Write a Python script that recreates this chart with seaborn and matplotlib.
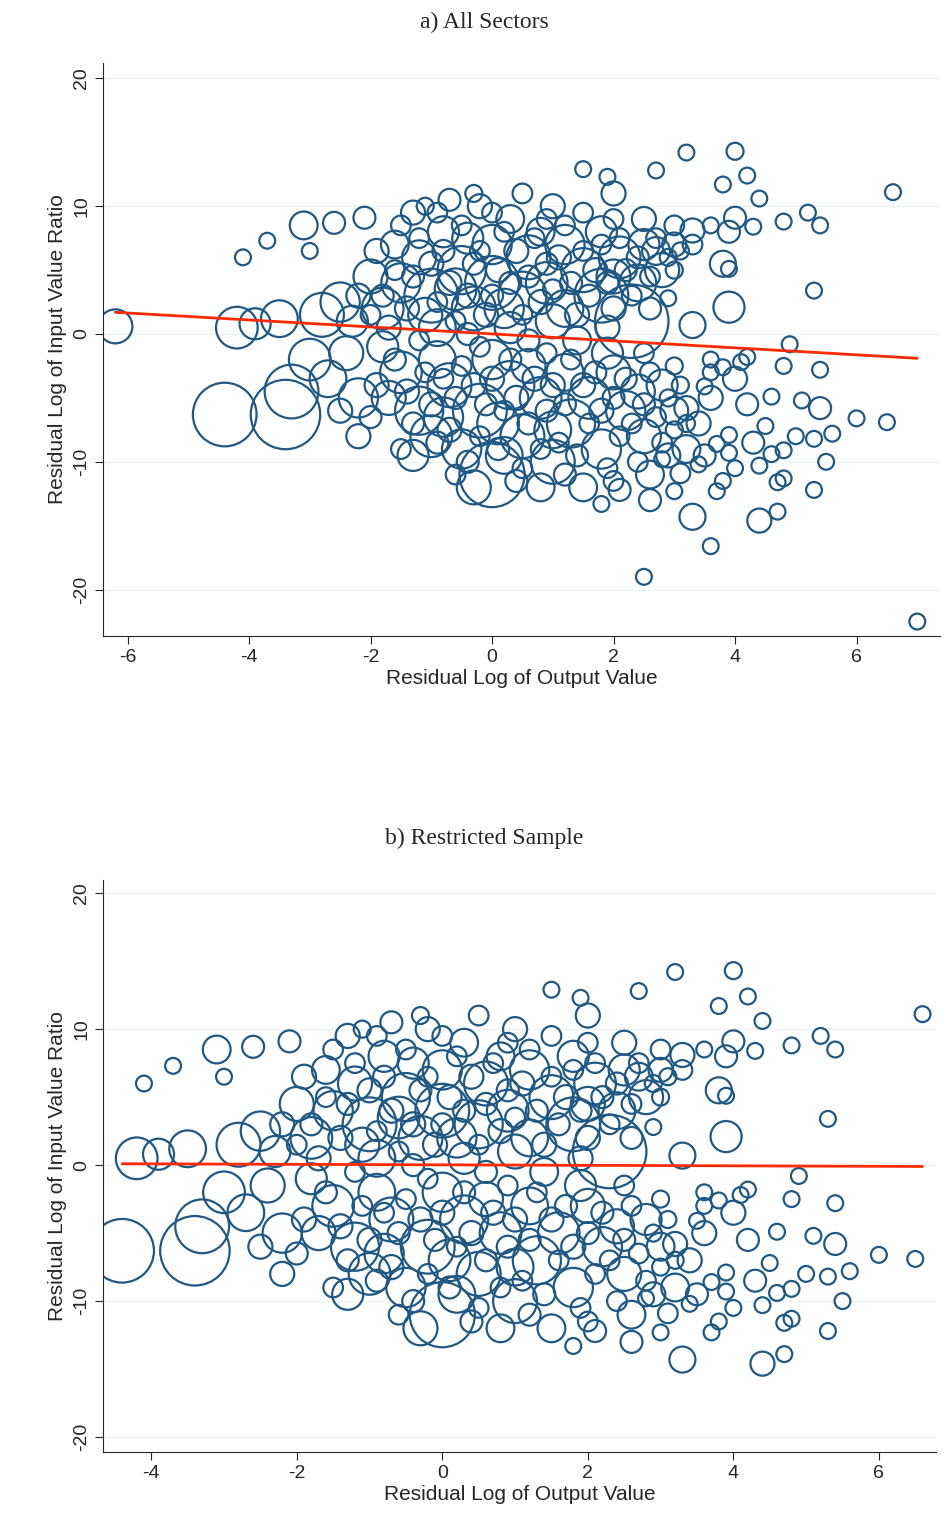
import numpy as np
import matplotlib
matplotlib.use("Agg")
import matplotlib.pyplot as plt
import seaborn as sns
import pandas as pd

sns.set_style('white')
plt.rcParams['font.family'] = ['Liberation Sans', 'DejaVu Sans']
plt.rcParams['axes.unicode_minus'] = False

# ---- data: (x, y, weight) ----
outliers = [
    (-6.2, 0.6, 600), (-4.4, -6.3, 2100), (-4.1, 6.0, 130), (-3.7, 7.3, 130), (-3.1, 8.5, 400),
    (-3.0, 6.5, 130), (-2.6, 8.7, 250), (-2.1, 9.1, 250), (-4.2, 0.5, 900), (-3.9, 0.8, 500),
    (-3.4, -6.3, 2500), (-3.3, -4.5, 1500), (-3.0, -2.0, 900), (-2.8, 1.5, 1000), (-2.5, 2.5, 800),
    (-2.2, -5.0, 800), (-2.2, -8.0, 300), (-2.4, -1.5, 600), (-3.5, 1.2, 700), (-2.7, -3.5, 700),
    (3.2, 14.2, 130), (4.0, 14.3, 150), (4.2, 12.4, 130), (3.8, 11.7, 130), (2.7, 12.8, 130),
    (1.5, 12.9, 130), (1.9, 12.3, 130), (2.0, 11.0, 300), (4.4, 10.6, 130), (6.6, 11.1, 130),
    (5.2, 9.5, 130), (5.4, 8.5, 130), (4.8, 8.8, 130), (4.3, 8.4, 130), (4.0, 9.1, 250),
    (3.9, 8.0, 250), (3.3, 8.1, 300), (3.8, 5.5, 350), (3.9, 5.1, 130), (3.9, 2.1, 500),
    (5.3, 3.4, 130), (3.3, 0.7, 350), (2.9, 2.8, 130), (4.9, -0.8, 130), (5.4, -2.8, 130),
    (4.8, -2.5, 130), (4.2, -1.8, 130), (3.6, -2.0, 130), (5.1, -5.2, 130), (5.4, -5.8, 250),
    (6.0, -6.6, 130), (6.5, -6.9, 130), (5.6, -7.8, 130), (5.0, -8.0, 130), (5.3, -8.2, 130),
    (4.8, -9.1, 130), (5.5, -10.0, 130), (4.6, -9.4, 130), (4.0, -10.5, 130), (4.4, -10.3, 130),
    (4.7, -11.6, 130), (4.8, -11.3, 130), (5.3, -12.2, 130), (4.4, -14.6, 300), (4.7, -13.9, 130),
    (3.6, -16.6, 130), (2.5, -19.0, 130), (7.0, -22.5, 130), (3.3, -14.3, 350), (3.0, -12.3, 130),
    (2.6, -13.0, 250), (2.1, -12.2, 250), (1.8, -13.3, 130), (3.8, -11.5, 130), (3.7, -12.3, 130),
    (3.5, -9.5, 250), (3.1, -10.9, 200), (4.3, -8.5, 250), (4.5, -7.2, 130), (4.2, -5.5, 250),
    (3.2, -5.8, 300), (4.6, -4.9, 130), (4.0, -3.5, 300), (4.1, -2.2, 130), (3.0, 8.5, 200),
    (3.6, -3.0, 130), (3.8, -2.6, 130), (3.5, -4.1, 130), (3.9, -7.9, 130), (3.7, -8.6, 130),
    (3.4, -10.2, 130), (3.9, -9.3, 130), (2.8, -9.8, 130), (3.3, 7.0, 200), (3.6, 8.5, 130),
]
upper_cluster = [
    (-1.8, 2, 900), (-1.5, 4, 800), (-1.2, 6, 600), (-1, 3, 1500), (-0.8, 8, 500), (-0.5, 5, 1200),
    (-0.3, 2, 1000), (0, 4, 1500), (0, 7, 800), (0.3, 9, 400), (0.5, 3, 1200), (0.6, 6, 1000),
    (0.9, 4, 900), (1.2, 7, 800), (1.2, 2, 700), (1.5, 5, 1000), (1.8, 3, 1500), (1.8, 8, 500),
    (2.1, 6, 900), (2.4, 4, 700), (2.5, 7, 500), (2.8, 5, 600), (2.3, 1, 2800), (-1.3, 9.5, 300),
    (-0.7, 10.5, 250), (-0.2, 10, 300), (1, 10, 300), (2.5, 9, 300), (3, 7, 300), (-2, 4.5, 600),
    (-0.9, 0.5, 700), (0.3, 0.5, 500), (1.4, -0.5, 400), (-1.6, 7, 400), (-0.4, 7.5, 500),
    (0.8, 8, 400), (2.0, 4.5, 600), (-1.1, 1.5, 600), (0.2, 2, 800), (1.0, 1, 600), (2.7, 6.5, 400),
    (-2.3, 1, 500), (-1.9, 6.5, 300), (0.5, 11, 200), (-0.6, 3.5, 900),
]
upper_dense = [
    (-2.0, 1.5, 200), (-1.8, 3.0, 250), (-1.6, 5.0, 200), (-1.4, 2.0, 300), (-1.3, 4.5, 250),
    (-1.2, 7.5, 200), (-1.0, 5.5, 300), (-0.9, 2.5, 200), (-0.8, 6.5, 250), (-0.7, 4.0, 300),
    (-0.6, 1.0, 200), (-0.5, 8.5, 200), (-0.4, 3.0, 300), (-0.3, 5.5, 250), (-0.2, 6.5, 200),
    (-0.1, 1.5, 300), (0.0, 3.0, 250), (0.1, 5.0, 300), (0.2, 8.0, 200), (0.3, 4.0, 250),
    (0.4, 6.5, 300), (0.5, 1.5, 200), (0.6, 4.5, 250), (0.7, 7.5, 200), (0.8, 2.5, 300),
    (0.9, 5.5, 250), (1.0, 3.5, 200), (1.1, 6.0, 300), (1.2, 8.5, 200), (1.3, 4.0, 250),
    (1.4, 1.5, 300), (1.5, 6.5, 200), (1.6, 3.0, 250), (1.7, 5.0, 300), (1.8, 7.0, 200),
    (1.9, 4.0, 250), (2.0, 2.0, 300), (2.1, 7.5, 200), (2.2, 5.0, 250), (2.3, 3.0, 200),
    (2.4, 6.0, 250), (2.6, 4.5, 200), (2.7, 7.5, 200), (2.9, 6.0, 150), (3.0, 5.0, 150),
    (3.1, 6.5, 150), (-1.5, 8.5, 200), (-0.9, 9.5, 200), (0.0, 9.5, 200), (0.9, 9.0, 200),
    (1.5, 9.5, 200), (2.0, 9.0, 200), (-2.2, 3.0, 300), (-1.7, 0.5, 300), (-0.4, 0.0, 250),
    (0.6, -0.5, 250), (1.9, 0.5, 300), (2.6, 2.0, 250), (-1.1, 10.0, 150), (-0.3, 11.0, 150),
]
lower_cluster = [
    (-1.5, -3, 900), (-1.2, -6, 1200), (-1, -8, 900), (-0.7, -4, 1000), (-0.5, -9, 800),
    (-0.2, -6, 1500), (0, -11, 2200), (0, -2, 800), (0.3, -4, 1200), (0.5, -8, 1000),
    (0.8, -5, 900), (1.0, -10, 1000), (1.2, -3, 700), (1.3, -7, 1200), (1.6, -5, 900),
    (1.8, -9, 800), (2, -3, 600), (2.2, -6, 800), (2.5, -8, 600), (2.8, -4, 500), (3, -6, 400),
    (3.2, -9, 400), (-1.8, -1, 500), (-0.3, -12, 600), (0.8, -12, 400), (1.5, -12, 400),
    (2.6, -11, 400), (3.4, -7, 300), (3.6, -5, 300), (-0.9, -2, 700), (0.6, -2.5, 600),
    (1.9, -1.5, 500), (-1.3, -9.5, 500), (0.2, -9.5, 700), (2.9, -9.5, 300), (-0.8, -6.5, 800),
    (1.0, -7.5, 700), (2.4, -4.5, 600), (-1.7, -5, 600), (0.1, -7, 900),
]
lower_dense = [
    (-1.6, -2.0, 250), (-1.4, -4.5, 300), (-1.3, -7.0, 250), (-1.1, -3.0, 200), (-1.0, -5.5, 300),
    (-0.9, -8.5, 250), (-0.8, -3.5, 200), (-0.7, -7.5, 300), (-0.6, -5.0, 250), (-0.5, -2.5, 200),
    (-0.4, -10.0, 250), (-0.3, -4.0, 300), (-0.2, -8.0, 200), (-0.1, -5.5, 250), (0.0, -3.5, 300),
    (0.1, -9.0, 250), (0.2, -6.0, 200), (0.3, -2.0, 250), (0.4, -5.0, 300), (0.5, -10.5, 200),
    (0.6, -7.0, 250), (0.7, -3.5, 300), (0.8, -9.0, 200), (0.9, -6.0, 250), (1.0, -4.0, 300),
    (1.1, -8.5, 200), (1.2, -5.5, 250), (1.3, -2.0, 200), (1.4, -9.5, 250), (1.5, -4.0, 300),
    (1.6, -7.0, 200), (1.7, -3.0, 250), (1.8, -6.0, 300), (1.9, -10.5, 200), (2.0, -5.0, 250),
    (2.1, -8.0, 200), (2.2, -3.5, 250), (2.3, -7.0, 200), (2.4, -10.0, 200), (2.5, -5.5, 250),
    (2.6, -3.0, 200), (2.7, -6.5, 200), (2.8, -8.5, 200), (2.9, -5.0, 150), (3.0, -7.5, 150),
    (3.1, -4.0, 150), (3.2, -7.0, 150), (-1.9, -4.0, 300), (-2.0, -6.5, 250), (-1.5, -9.0, 200),
    (-0.6, -11.0, 200), (0.4, -11.5, 250), (1.2, -11.0, 250), (2.0, -11.5, 200), (-1.2, -0.5, 200),
    (-0.2, -1.0, 200), (0.9, -1.5, 200), (2.5, -1.5, 200), (3.0, -2.5, 150), (-2.5, -6.0, 300),
]

fit_a = (-6.2, 1.7, 7.0, -1.9)      # x0, y0, x1, y1 of fitted line, panel a
fit_b = (-4.4, 0.1, 6.6, -0.1)      # panel b

df = pd.DataFrame(outliers + upper_cluster + upper_dense + lower_cluster + lower_dense,
                  columns=['x', 'y', 'w'])
# restricted sample drops the most extreme observations
df_b = df[(df.x > -5) & (df.y > -15.5)]

color = '#1f5882'
fig = plt.figure(figsize=(9.47, 15.39), dpi=100)
ax1 = fig.add_axes([0.109, 0.587, 0.884, 0.372])
ax2 = fig.add_axes([0.109, 0.0565, 0.879, 0.372])

panels = [(ax1, df, fit_a, 'a) All Sectors', (-6.4, 7.38), (-23.6, 21.2), 0.9815),
          (ax2, df_b, fit_b, 'b) Restricted Sample', (-4.66, 6.78), (-21.1, 21.0), 0.4515)]
for ax, d, fit, title, xl, yl, ty in panels:
    sns.scatterplot(data=d, x='x', y='y', s=d['w'].values, facecolors='none',
                    edgecolor=color, linewidth=1.6, ax=ax, legend=False)
    ax.plot([fit[0], fit[2]], [fit[1], fit[3]], color='#ff2a00', lw=2)
    ax.set_xlim(*xl)
    ax.set_ylim(*yl)
    ax.set_yticks([-20, -10, 0, 10, 20])
    ax.set_yticklabels(['-20', '-10', '0', '10', '20'], rotation=90, va='center')
    for t in [-20, -10, 0, 10, 20]:
        ax.axhline(t, color='#eef2f4', lw=1, zorder=0)
    ax.tick_params(labelsize=14, direction='out', length=6, left=True, bottom=True)
    for sp in ['top', 'right']:
        ax.spines[sp].set_visible(False)
    ax.set_xlabel('Residual Log of Output Value', fontsize=15, labelpad=2)
    ax.set_ylabel('Residual Log of Input Value Ratio', fontsize=15)
    fig.text(0.511, ty, title, fontsize=17, ha='center', va='baseline',
             family=['Liberation Serif', 'DejaVu Serif'])

ax1.set_xticks([-6, -4, -2, 0, 2, 4, 6])
ax2.set_xticks([-4, -2, 0, 2, 4, 6])

fig.savefig('out.png', dpi=100)
